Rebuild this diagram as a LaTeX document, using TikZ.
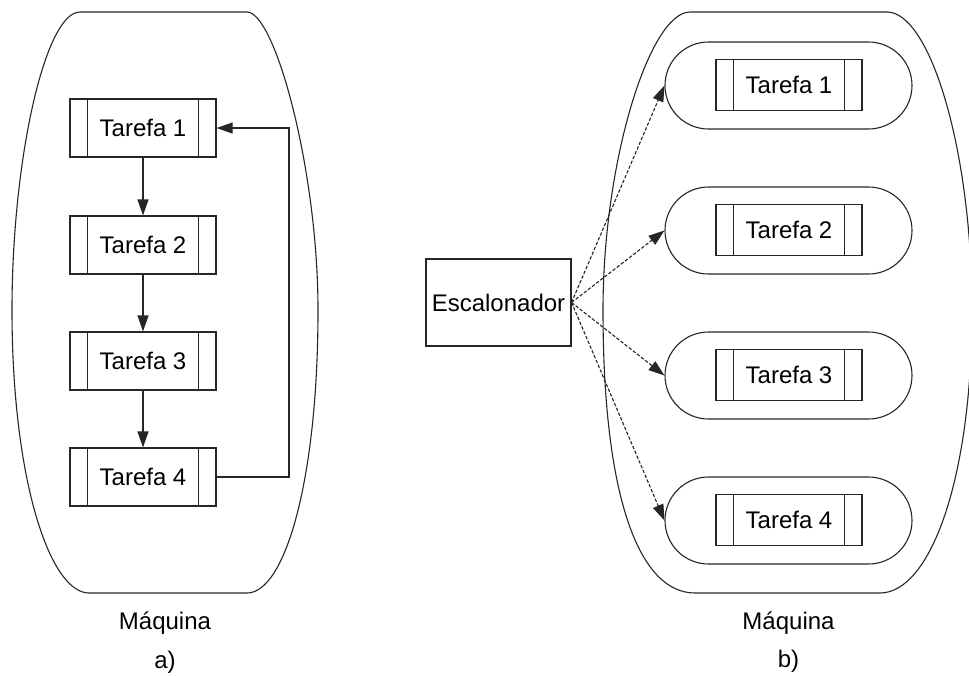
\documentclass[tikz,border=0pt]{standalone}
\usepackage{fontspec}
\setmainfont{Liberation Sans}
\usetikzlibrary{arrows.meta}
\begin{document}
\begin{tikzpicture}[x=0.5pt,y=-0.5pt,
  every node/.style={font=\fontsize{12}{14}\selectfont},
  line/.style={line width=0.55pt, draw=black!85},
  task/.style={line, rectangle, inner sep=0pt, minimum width=73pt,
    path picture={
      \draw[line] ([xshift=8.75pt]path picture bounding box.north west) -- ([xshift=8.75pt]path picture bounding box.south west);
      \draw[line] ([xshift=-8.75pt]path picture bounding box.north east) -- ([xshift=-8.75pt]path picture bounding box.south east);
    }},
  tallTask/.style={task, minimum height=29pt},
  flatTask/.style={task, minimum height=25.5pt},
  pill/.style={line, rectangle, rounded corners=21.75pt, minimum width=123.5pt, minimum height=43.5pt},
  sched/.style={line, rectangle, inner sep=0pt, minimum width=72.5pt, minimum height=43.5pt},
  flow/.style={line, -{Triangle[length=8pt,width=5.5pt]}},
  dispatch/.style={flow, dash pattern=on 1.7pt off 0.9pt},
  caption/.style={anchor=base}
]
\useasboundingbox (0,0) rectangle (969,675);

% machine outlines
\draw[line] (80,12) .. controls (45,12) and (12,160) .. (12,310)
  .. controls (12,480) and (50,593) .. (89,593) -- (247,593)
  .. controls (285,593) and (318,480) .. (318,310)
  .. controls (318,170) and (275,12) .. (247,12) -- cycle;
\draw[line] (690,12) .. controls (650,12) and (603,160) .. (603,310)
  .. controls (603,500) and (640,593) .. (695,593) -- (880,593)
  .. controls (930,593) and (972,480) .. (972,310)
  .. controls (972,150) and (930,12) .. (887,12) -- cycle;

% a) sequential tasks
\node[tallTask] (a1) at (143,128) {Tarefa 1};
\node[tallTask] (a2) at (143,245) {Tarefa 2};
\node[tallTask] (a3) at (143,361) {Tarefa 3};
\node[tallTask] (a4) at (143,477) {Tarefa 4};
\coordinate (loop) at (289,300);
\draw[flow] (a1) -- (a2);
\draw[flow] (a2) -- (a3);
\draw[flow] (a3) -- (a4);
\draw[flow] (a4.east) -- (a4.east -| loop) -- (a1.east -| loop) -- (a1.east);

\node[caption] (ma) at (165,629) {Máquina};
\node[caption] (la) at (165,668) {a)};

% b) scheduler dispatching tasks
\node[sched] (esc) at (498.5,302.5) {Escalonador};
\node[pill] (p1) at (788.5,85.5) {};
\node[pill] (p2) at (788.5,230.5) {};
\node[pill] (p3) at (788.5,375.5) {};
\node[pill] (p4) at (788.5,520.5) {};
\node[flatTask] (b1) at (789,85) {Tarefa 1};
\node[flatTask] (b2) at (789,230) {Tarefa 2};
\node[flatTask] (b3) at (789,375) {Tarefa 3};
\node[flatTask] (b4) at (789,520) {Tarefa 4};
\foreach \p in {p1,p2,p3,p4}
  \draw[dispatch] (esc.east) -- (\p.west);

\node[caption] (mb) at (788.5,629) {Máquina};
\node[caption] (lb) at (788.5,667) {b)};
\end{tikzpicture}
\end{document}
